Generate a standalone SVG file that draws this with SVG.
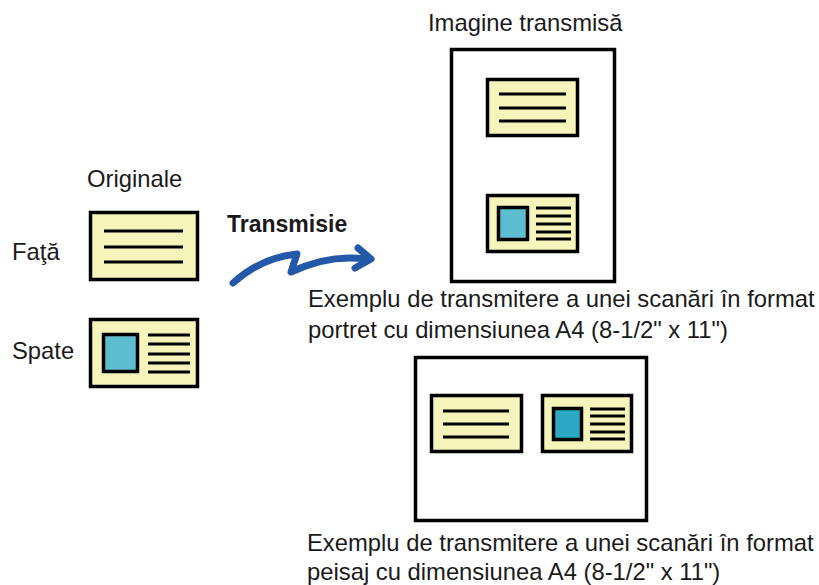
<svg xmlns="http://www.w3.org/2000/svg" width="819" height="585" viewBox="0 0 819 585">
<style>
text{font-family:"Liberation Sans",Arial,sans-serif;font-size:23.8px;fill:#1a1a1a}
.b{font-weight:bold;font-size:23px}
.card{fill:#f5f4bb;stroke:#000;stroke-width:3.5}
.page{fill:#fff;stroke:#000;stroke-width:3.5}
.ln{stroke:#000;stroke-width:3.2;fill:none}
.sq{fill:#5cbcd0;stroke:#000;stroke-width:3.5}
.sq2{fill:#2aa8c4;stroke:#000;stroke-width:3.5}
.arr{fill:none;stroke:#2458a8;stroke-width:7;stroke-linecap:round;stroke-linejoin:round}
</style>
<g id="labels">
<text x="87" y="187">Originale</text>
<text x="12" y="260">Faţă</text>
<text x="12" y="359">Spate</text>
<text x="428" y="31">Imagine transmisă</text>
<text class="b" x="227" y="232">Transmisie</text>
<text x="308" y="307">Exemplu de transmitere a unei scanări în format</text>
<text x="308" y="338">portret cu dimensiunea A4 (8-1/2" x 11")</text>
<text x="307" y="551">Exemplu de transmitere a unei scanări în format</text>
<text x="307" y="580">peisaj cu dimensiunea A4 (8-1/2" x 11")</text>
</g>
<g id="front-original">
<rect class="card" x="90.5" y="212.5" width="107" height="67"/>
<path class="ln" d="M104 231H183M104 247H183M104 262H183"/>
</g>
<g id="back-original">
<rect class="card" x="90.5" y="319.5" width="107" height="67"/>
<rect class="sq" x="103.5" y="334.5" width="34" height="37"/>
<path class="ln" d="M148 335H190M148 344H190M148 354H190M148 363H190M148 372H190"/>
</g>
<g id="connectors">
<path class="arr" d="M233 283C252 266 275 256 297 254L291 272C312 262 336 255 366 259"/>
<path class="arr" d="M358 248L371 259L355 268"/>
</g>
<g id="portrait-page">
<rect class="page" x="451.5" y="49.5" width="163" height="232"/>
<rect class="card" x="487.5" y="79.5" width="90" height="56"/>
<path class="ln" d="M499 94H566M499 108H566M499 121H566"/>
<rect class="card" x="487.5" y="195.5" width="90" height="56"/>
<rect class="sq" x="498.5" y="207.5" width="29" height="32"/>
<path class="ln" d="M536 208H571M536 216H571M536 224H571M536 232H571M536 239H571"/>
</g>
<g id="landscape-page">
<rect class="page" x="415.5" y="357.5" width="231" height="163"/>
<rect class="card" x="431.5" y="395.5" width="90" height="56"/>
<path class="ln" d="M443 411H509M443 424H509M443 437H509"/>
<rect class="card" x="542.5" y="395.5" width="89" height="56"/>
<rect class="sq2" x="553.5" y="408.5" width="28" height="31"/>
<path class="ln" d="M590 409H625M590 416H625M590 424H625M590 432H625M590 439H625"/>
</g>
</svg>
